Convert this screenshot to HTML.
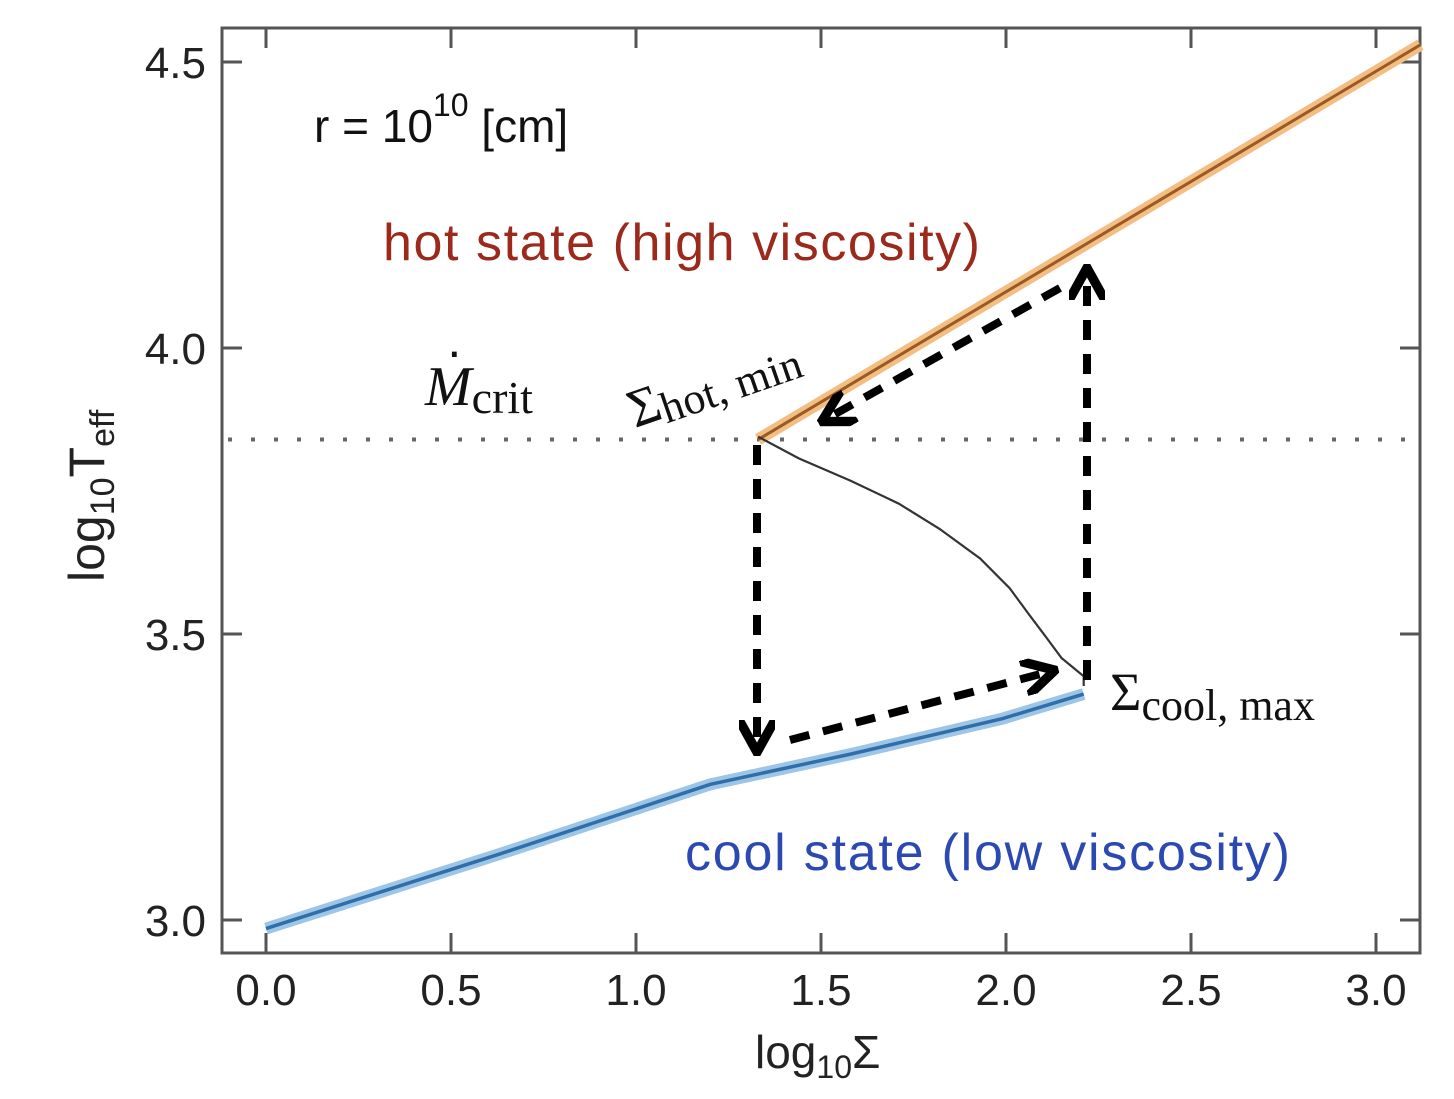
<!DOCTYPE html>
<html><head><meta charset="utf-8"><style>
body{margin:0;background:#fff;width:1454px;height:1094px;overflow:hidden}
svg text{font-family:"Liberation Sans",sans-serif}
</style></head><body>
<svg id="chart" width="1454" height="1094">
<defs><marker id="ah" viewBox="0 0 10 10" refX="7" refY="5" markerWidth="4.5" markerHeight="4.5" orient="auto"><path d="M0,0 L9,5 L0,10" fill="none" stroke="#000" stroke-width="2.6"/></marker></defs>
<g id="plot"></g>
</svg>
<script>
const xTicks=[0.0,0.5,1.0,1.5,2.0,2.5,3.0];
const yTicks=[3.0,3.5,4.0,4.5];
const hotX=[1.33,3.12];
const hotY=[3.84,4.53];
const coolX=[0.0,0.63,1.2,1.58,1.99,2.21];
const coolY=[2.985,3.115,3.237,3.29,3.352,3.395];
const midX=[1.33,1.44,1.58,1.71,1.82,1.93,2.01,2.06,2.11,2.15,2.21,2.21];
const midY=[3.845,3.807,3.768,3.728,3.684,3.632,3.58,3.536,3.493,3.458,3.426,3.409];
const mcritY=3.84;
const X=v=>266+v*370, Y=v=>348-(v-4)*572;
const g=document.getElementById('plot');
const NS='http://www.w3.org/2000/svg';
function el(t,a,txt){const e=document.createElementNS(NS,t);for(const k in a)e.setAttribute(k,a[k]);if(txt!=null)e.textContent=txt;g.appendChild(e);return e;}
function pts(xs,ys){return xs.map((x,i)=>X(x)+','+Y(ys[i])).join(' ');}
let e;
e=el('rect',{x:222,y:28,width:1198,height:925,fill:'none',stroke:'#555','stroke-width':3});


xTicks.forEach(t=>{
 e=el('path',{d:`M${X(t)},953v-20M${X(t)},28v20`,stroke:'#555','stroke-width':3});
 
 
 e=el('text',{x:X(t),y:1005,'text-anchor':'middle','font-size':44,fill:'#222'},t.toFixed(1));
 
 
});
yTicks.forEach(t=>{
 e=el('path',{d:`M222,${Y(t)}h20M1420,${Y(t)}h-20`,stroke:'#555','stroke-width':3});
 
 
 e=el('text',{x:206,y:Y(t)+16,'text-anchor':'end','font-size':44,fill:'#222'},t.toFixed(1));
 
 
});
e=el('line',{x1:228,x2:1420,y1:Y(mcritY),y2:Y(mcritY),stroke:'#666','stroke-width':4,'stroke-dasharray':'4 19'});


e=el('polyline',{points:pts(hotX,hotY),fill:'none',stroke:'#f3be84','stroke-width':12});


e=el('polyline',{points:pts(hotX,hotY),fill:'none',stroke:'#9a5a22','stroke-width':3});


e=el('polyline',{points:pts(coolX,coolY),fill:'none',stroke:'#9cc5e6','stroke-width':12});


e=el('polyline',{points:pts(coolX,coolY),fill:'none',stroke:'#2f6ea8','stroke-width':3.5});


e=el('polyline',{points:pts(midX,midY),fill:'none',stroke:'#333','stroke-width':2.2});


const arrows=[[757,445,757,745],[790,740,1048,672],[1087,680,1087,275],[1060,288,828,418]];
const arrowNames=['arrow-down','arrow-right','arrow-up','arrow-left'];
arrows.forEach((a,i)=>{
 e=el('line',{x1:a[0],y1:a[1],x2:a[2],y2:a[3],stroke:'#000','stroke-width':8,'stroke-dasharray':'20 14','marker-end':'url(#ah)'});
 
 
});
e=el('text',{x:314,y:142,'font-size':46,fill:'#111'});e.innerHTML='r = 10<tspan dy="-26" font-size="32">10</tspan><tspan dy="26"> [cm]</tspan>';


e=el('text',{x:383,y:260,'font-size':52,fill:'#9b2a1c',textLength:597});e.textContent='hot state (high viscosity)';


e=el('text',{x:685,y:870,'font-size':52,fill:'#2b49b0',textLength:605},'cool state (low viscosity)');


e=el('text',{x:425,y:405,'font-size':56,fill:'#111'});e.innerHTML='<tspan font-style="italic">M</tspan><tspan font-size="46" dy="8">crit</tspan>';e.style.fontFamily='Liberation Serif';


e=el('text',{x:446,y:368,'font-size':50,fill:'#111'},'·');
e=el('text',{x:635,y:428,'font-size':54,fill:'#111',transform:'rotate(-19 635 428)'});e.innerHTML='Σ<tspan font-size="44" dy="6">hot, min</tspan>';e.style.fontFamily='Liberation Serif';


e=el('text',{x:1110,y:710,'font-size':54,fill:'#111'});e.innerHTML='Σ<tspan font-size="44" dy="10">cool, max</tspan>';e.style.fontFamily='Liberation Serif';


e=el('text',{x:755,y:1068,'font-size':46,fill:'#222'});e.innerHTML='log<tspan font-size="32" dy="10">10</tspan><tspan dy="-10">Σ</tspan>';


e=el('text',{x:0,y:0,'font-size':50,fill:'#222',transform:'translate(104,582) rotate(-90)'});e.innerHTML='log<tspan font-size="34" dy="10">10</tspan><tspan dy="-10">T</tspan><tspan font-size="34" dy="10">eff</tspan>';


</script>
</body></html>
